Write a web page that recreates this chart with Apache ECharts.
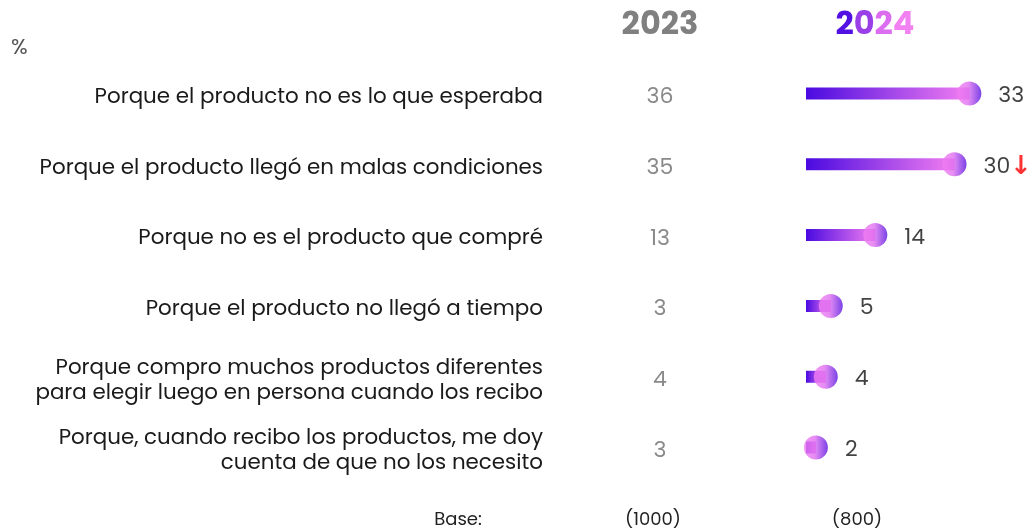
<!DOCTYPE html>
<html>
<head>
<meta charset="utf-8">
<script src="https://cdn.jsdelivr.net/npm/echarts@6/dist/echarts.min.js"></script>
<style>
  html, body { margin: 0; padding: 0; background: #fff; }
  #chart { width: 1034px; height: 529px; }
</style>
</head>
<body>
<div id="chart"></div>
<script>
const reasons = [
  'Porque el producto no es lo que esperaba',
  'Porque el producto llegó en malas condiciones',
  'Porque no es el producto que compré',
  'Porque el producto no llegó a tiempo',
  'Porque compro muchos productos diferentes\npara elegir luego en persona cuando los recibo',
  'Porque, cuando recibo los productos, me doy\ncuenta de que no los necesito'
];
const values2023 = [36, 35, 13, 3, 4, 3];
const values2024 = [33, 30, 14, 5, 4, 2];
const dropFlags = [false, true, false, false, false, false]; // red arrow next to value
const years = ['2023', '2024'];
const bases = ['(1000)', '(800)'];

const FONT = 'Poppins, "Noto Sans", sans-serif';
const PURPLE = '#4a0ae0';
const PINK = '#f27ef1';

// colour steps for the "2024" header, one per digit
const headColors = ['#5310e2', '#9a3ee8', '#dc6cf0', '#f282f2'];
const headRich = {};
headColors.forEach((c, i) => {
  headRich['c' + i] = { fill: c, fontSize: 32, fontWeight: 'bold', fontFamily: FONT };
});
const headText = years[1].split('').map((ch, i) => '{c' + i + '|' + ch + '}').join('');

const chart = echarts.init(document.getElementById('chart'));

chart.setOption({
  backgroundColor: '#fff',
  // grid 0: bars; grid 1: text columns, sitting a few px lower like the original
  grid: [
    { left: 806, right: 30, top: 58, bottom: 46 },
    { left: 806, right: 30, top: 62, bottom: 42 }
  ],
  xAxis: [
    { type: 'value', min: 0, max: 40, show: false, gridIndex: 0 },
    { type: 'value', min: 0, max: 40, show: false, gridIndex: 1 }
  ],
  yAxis: [
    {
      type: 'category', inverse: true, data: reasons, gridIndex: 0,
      axisLine: { show: false }, axisTick: { show: false }, axisLabel: { show: false }
    },
    {
      type: 'category', inverse: true, data: reasons, gridIndex: 1,
      axisLine: { show: false }, axisTick: { show: false },
      axisLabel: {
        margin: 263, color: '#1a1a1a', fontSize: 21.4, lineHeight: 25,
        fontFamily: FONT, align: 'right'
      }
    },
    {
      type: 'category', inverse: true, position: 'left', gridIndex: 1,
      data: values2023.map(String),
      axisLine: { show: false }, axisTick: { show: false },
      axisLabel: {
        margin: 146, color: '#8a8a8a', fontSize: 22,
        fontFamily: FONT, align: 'center'
      }
    }
  ],
  graphic: [
    { type: 'text', left: 11, top: 37,
      style: { text: '%', fill: '#555', fontSize: 22, fontFamily: FONT } },
    { type: 'text', x: 660, y: 26,
      style: { text: years[0], fill: '#808080', fontSize: 32, fontWeight: 'bold',
               fontFamily: FONT, align: 'center', verticalAlign: 'middle' } },
    { type: 'text', x: 875, y: 26,
      style: { text: headText, rich: headRich, fontSize: 32, fontWeight: 'bold',
               fontFamily: FONT, align: 'center', verticalAlign: 'middle' } },
    { type: 'text', x: 458, y: 520,
      style: { text: 'Base:', fill: '#222', fontSize: 18, fontFamily: FONT,
               align: 'center', verticalAlign: 'middle' } },
    { type: 'text', x: 653, y: 520,
      style: { text: bases[0], fill: '#222', fontSize: 18, fontFamily: FONT,
               align: 'center', verticalAlign: 'middle' } },
    { type: 'text', x: 857, y: 520,
      style: { text: bases[1], fill: '#222', fontSize: 18, fontFamily: FONT,
               align: 'center', verticalAlign: 'middle' } }
  ],
  series: [
    {
      type: 'bar',
      data: values2024,
      barWidth: 12,
      silent: true,
      itemStyle: {
        color: new echarts.graphic.LinearGradient(0, 0, 1, 0, [
          { offset: 0, color: PURPLE }, { offset: 1, color: PINK }
        ])
      },
      z: 2
    },
    {
      type: 'scatter',
      data: values2024.map((v, i) => [v, i]),
      symbolSize: 24,
      silent: true,
      itemStyle: {
        color: new echarts.graphic.LinearGradient(0, 0, 1, 0, [
          { offset: 0, color: PINK }, { offset: 0.45, color: '#e070f0' }, { offset: 1, color: '#5a14e0' }
        ])
      },
      label: {
        show: true, position: 'right', distance: 17, offset: [0, 3],
        fontFamily: FONT, fontSize: 22, color: '#111',
        formatter: (p) => dropFlags[p.dataIndex]
          ? '{v|' + p.value[0] + '}{d|↓}'
          : '{v|' + p.value[0] + '}',
        rich: {
          v: { fontFamily: FONT, fontSize: 22, color: '#111' },
          d: { fontFamily: 'DejaVu Sans', fontSize: 26, fontWeight: 'bold', color: '#ff0000' }
        }
      },
      z: 5
    }
  ]
});
</script>
</body>
</html>
